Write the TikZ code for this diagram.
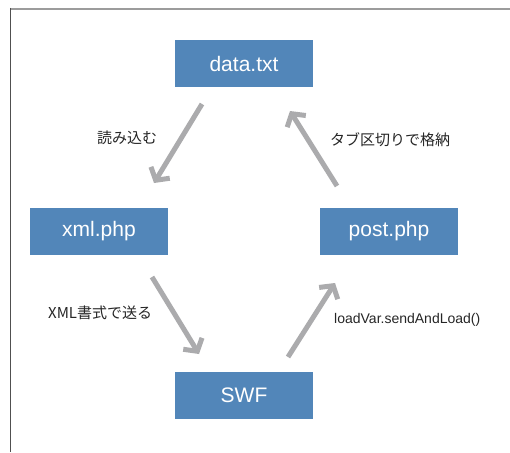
\documentclass[tikz,border=0pt]{standalone}
\usepackage{fontspec}
\setmainfont{Liberation Sans}
\newfontfamily\jpfont{Noto Sans CJK JP}
\usetikzlibrary{arrows.meta}
\definecolor{boxblue}{HTML}{5286B9}
\definecolor{arrowgray}{HTML}{ABABAD}
\definecolor{frametop}{HTML}{9C9C9C}
\definecolor{frameleft}{HTML}{505050}
\begin{document}
\begin{tikzpicture}[x=1pt,y=-1pt,
  filebox/.style={fill=boxblue,draw=none,minimum width=138pt,minimum height=47pt,inner sep=0pt,
    text=white,font=\fontsize{21}{25}\selectfont},
  flow/.style={draw=arrowgray,line width=5pt,-{Straight Barb[length=9pt,width=22pt,line width=5pt]}},
  jplabel/.style={font=\jpfont\fontsize{15}{18}\selectfont,text=black!85,inner sep=0pt},
  enlabel/.style={font=\fontsize{14}{17}\selectfont,text=black!85,inner sep=0pt}]
\useasboundingbox (0,0) rectangle (510,452);
\fill[white] (0,0) rectangle (510,452);
\draw[frametop,line width=2pt] (10,9) -- (510,9);
\draw[frameleft,line width=1.5pt] (10.5,8) -- (10.5,452);

\node[filebox] (data) at (244,63.5) {data.txt};
\node[filebox] (xml) at (99,231.5) {xml.php};
\node[filebox] (post) at (389,231.5) {post.php};
\node[filebox] (swf) at (244,395.5) {SWF};

\coordinate (a1s) at (202,104); \coordinate (a1e) at (154,183);
\coordinate (a2s) at (337,186); \coordinate (a2e) at (290,111);
\coordinate (a3s) at (152,277); \coordinate (a3e) at (199,354);
\coordinate (a4s) at (288,357); \coordinate (a4e) at (335,283);

\draw[flow] (a1s) -- (a1e);
\draw[flow] (a2s) -- (a2e);
\draw[flow] (a3s) -- (a3e);
\draw[flow] (a4s) -- (a4e);

\node[jplabel,anchor=west] (l1) at (97,138) {読み込む};
\node[jplabel,anchor=west] (l2) at (330,140) {タブ区切りで格納};
\node[jplabel,anchor=west] (l3) at (48,313) {XML書式で送る};
\node[enlabel,anchor=west] (l4) at (334,320) {loadVar.sendAndLoad()};
\end{tikzpicture}
\end{document}
